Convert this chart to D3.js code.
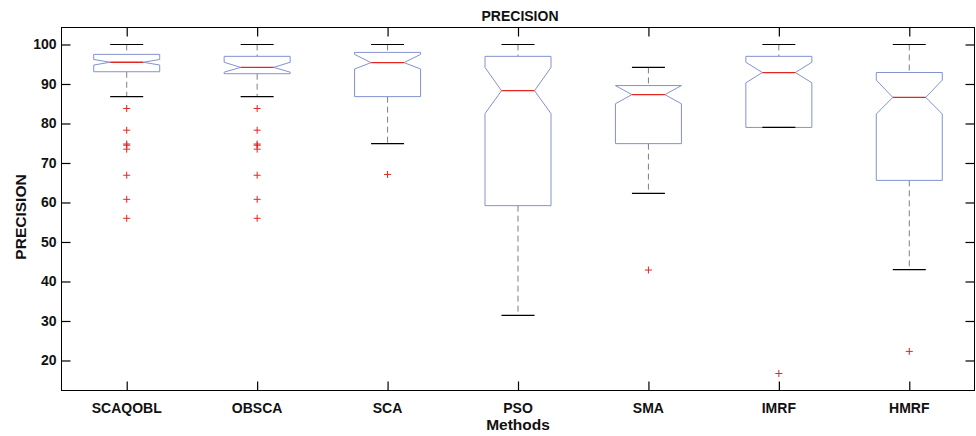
<!DOCTYPE html>
<html>
<head>
<meta charset="utf-8">
<script src="https://cdn.jsdelivr.net/npm/d3@7"></script>
<style>
  body { margin: 0; background: #fff; }
  text { font-family: "Liberation Sans", Arial, sans-serif; font-weight: bold; fill: #111; }
</style>
</head>
<body>
<div id="chart"></div>
<script>
// values
var methods  = ["SCAQOBL", "OBSCA", "SCA", "PSO", "SMA", "IMRF", "HMRF"];
var whiskHi  = [100, 100, 100, 100, 94.2, 100, 100];
var q3       = [97.5, 97.0, 98.0, 97.0, 89.6, 97.0, 92.9];
var notchHi  = [96.2, 95.5, 97.5, 94.2, 89.6, 95.5, 91.0];
var medians  = [95.5, 94.2, 95.4, 88.3, 87.3, 92.9, 86.6];
var notchLo  = [94.8, 93.0, 93.8, 82.5, 85.0, 90.3, 82.4];
var q1       = [93.1, 92.6, 86.8, 59.2, 74.9, 79.0, 65.6];
var whiskLo  = [86.8, 86.8, 74.9, 31.4, 62.3, 79.0, 43.0];
var outliers = [
    [83.8, 78.3, 74.8, 74.5, 73.5, 66.9, 60.8, 56.0],
    [83.8, 78.3, 74.8, 74.5, 73.5, 66.9, 60.8, 56.0],
    [67.1],
    [],
    [42.9],
    [16.7],
    [22.3]
];
var yTicks = [20, 30, 40, 50, 60, 70, 80, 90, 100];

var W = 976, H = 436;
var pLeft = 61.5, pRight = 974.5, pTop = 27.5, pBottom = 390.5;

var svg = d3.select("#chart").append("svg")
    .attr("width", W)
    .attr("height", H);

var x = d3.scalePoint()
    .domain(methods)
    .range([pLeft, pRight])
    .padding(0.5);

var y = d3.scaleLinear()
    .domain([12.4, 104.3])
    .range([pBottom, pTop]);

var halfW = 33;   // box half width
var capW = 16.5;  // whisker cap half width
var tickLen = 9;

// axes box
svg.append("rect")
    .attr("x", pLeft).attr("y", pTop)
    .attr("width", pRight - pLeft).attr("height", pBottom - pTop)
    .attr("fill", "none").attr("stroke", "#000").attr("stroke-width", 1);

// ticks drawn inward on all four sides
var yAxisL = svg.append("g")
    .attr("transform", "translate(" + pLeft + ",0)")
    .call(d3.axisRight(y).tickValues(yTicks).tickSize(tickLen).tickFormat(""));
var yAxisR = svg.append("g")
    .attr("transform", "translate(" + pRight + ",0)")
    .call(d3.axisLeft(y).tickValues(yTicks).tickSize(tickLen).tickFormat(""));
var xAxisB = svg.append("g")
    .attr("transform", "translate(0," + pBottom + ")")
    .call(d3.axisTop(x).tickSize(tickLen).tickFormat(""));
var xAxisT = svg.append("g")
    .attr("transform", "translate(0," + pTop + ")")
    .call(d3.axisBottom(x).tickSize(tickLen).tickFormat(""));
[yAxisL, yAxisR, xAxisB, xAxisT].forEach(function(g) {
    g.select(".domain").remove();
    g.selectAll("line").attr("stroke", "#000").attr("stroke-width", 1.2);
});

// tick labels
svg.selectAll(".ylab")
    .data(yTicks)
    .enter()
    .append("text")
    .attr("x", pLeft - 5)
    .attr("y", function(d) { return y(d); })
    .attr("dy", "0.35em")
    .attr("text-anchor", "end")
    .style("font-size", "14px")
    .text(function(d) { return d; });

svg.selectAll(".xlab")
    .data(methods)
    .enter()
    .append("text")
    .attr("x", function(d) { return x(d); })
    .attr("y", pBottom + 22)
    .attr("text-anchor", "middle")
    .style("font-size", "14px")
    .text(function(d) { return d; });

// titles
svg.append("text")
    .attr("x", (pLeft + pRight) / 2 + 2).attr("y", 21)
    .attr("text-anchor", "middle")
    .style("font-size", "14px")
    .text("PRECISION");
svg.append("text")
    .attr("x", (pLeft + pRight) / 2).attr("y", 430)
    .attr("text-anchor", "middle")
    .style("font-size", "15.5px")
    .text("Methods");
svg.append("text")
    .attr("transform", "translate(26,217) rotate(-90)")
    .attr("text-anchor", "middle")
    .style("font-size", "15.5px")
    .text("PRECISION");

// boxes
var boxes = methods.map(function(m, i) {
    return {name: m, hi: whiskHi[i], q3: q3[i], nh: notchHi[i], med: medians[i],
            nl: notchLo[i], q1: q1[i], lo: whiskLo[i], out: outliers[i]};
});

var g = svg.selectAll(".box")
    .data(boxes)
    .enter()
    .append("g")
    .attr("class", "box");

// dashed whiskers
g.append("line")
    .attr("x1", function(d) { return x(d.name); })
    .attr("x2", function(d) { return x(d.name); })
    .attr("y1", function(d) { return y(d.hi); })
    .attr("y2", function(d) { return y(d.q3); })
    .attr("stroke", "#7f7f7f").attr("stroke-dasharray", "6,4");
g.append("line")
    .attr("x1", function(d) { return x(d.name); })
    .attr("x2", function(d) { return x(d.name); })
    .attr("y1", function(d) { return y(d.q1); })
    .attr("y2", function(d) { return y(d.lo); })
    .attr("stroke", "#7f7f7f").attr("stroke-dasharray", "6,4");

// upper whisker caps
g.append("line")
    .attr("x1", function(d) { return x(d.name) - capW; })
    .attr("x2", function(d) { return x(d.name) + capW; })
    .attr("y1", function(d) { return y(d.hi); })
    .attr("y2", function(d) { return y(d.hi); })
    .attr("stroke", "#000").attr("stroke-width", 1.2);

// notched box outline
g.append("path")
    .attr("d", function(d) {
        var cx = x(d.name);
        var pts = [
            [cx - halfW, y(d.q3)], [cx - halfW, y(d.nh)], [cx - halfW / 2, y(d.med)],
            [cx - halfW, y(d.nl)], [cx - halfW, y(d.q1)], [cx + halfW, y(d.q1)],
            [cx + halfW, y(d.nl)], [cx + halfW / 2, y(d.med)], [cx + halfW, y(d.nh)],
            [cx + halfW, y(d.q3)]
        ];
        return d3.line()(pts) + "Z";
    })
    .attr("fill", "none").attr("stroke", "#8391d1").attr("stroke-width", 1);

// lower whisker caps
g.append("line")
    .attr("x1", function(d) { return x(d.name) - capW; })
    .attr("x2", function(d) { return x(d.name) + capW; })
    .attr("y1", function(d) { return y(d.lo); })
    .attr("y2", function(d) { return y(d.lo); })
    .attr("stroke", "#000").attr("stroke-width", 1.2);

// medians
g.append("line")
    .attr("x1", function(d) { return x(d.name) - halfW / 2; })
    .attr("x2", function(d) { return x(d.name) + halfW / 2; })
    .attr("y1", function(d) { return y(d.med); })
    .attr("y2", function(d) { return y(d.med); })
    .attr("stroke", "#e3261f").attr("stroke-width", 1.3);

// outliers as red plus marks
g.each(function(d) {
    var sel = d3.select(this);
    d.out.forEach(function(v) {
        var cx = x(d.name), cy = y(v);
        sel.append("path")
            .attr("d", "M" + (cx - 3.5) + "," + cy + "H" + (cx + 3.5) + "M" + cx + "," + (cy - 3.5) + "V" + (cy + 3.5))
            .attr("stroke", "#e3261f").attr("stroke-width", 1);
    });
});
</script>
</body>
</html>
